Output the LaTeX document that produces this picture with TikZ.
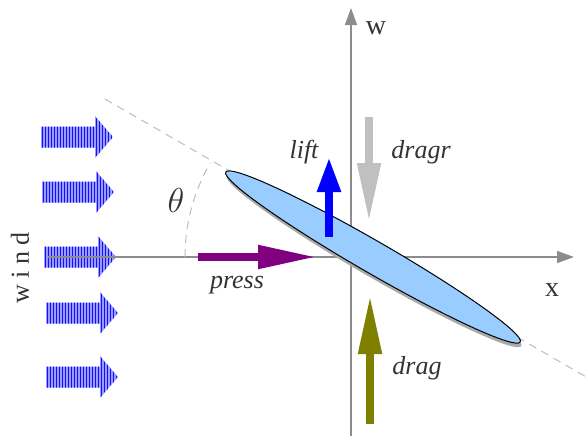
\documentclass[tikz,border=0pt]{standalone}
\usepackage{fontspec}
\setmainfont{Liberation Serif}
\usetikzlibrary{arrows.meta,calc}
\definecolor{ink}{HTML}{333333}
\definecolor{axisgray}{HTML}{8C8C8C}
\definecolor{guidegray}{HTML}{BDBDBD}
\definecolor{wingfill}{HTML}{99CCFF}
\definecolor{shadowgray}{HTML}{AAAAAA}
\definecolor{liftblue}{HTML}{0000FF}
\definecolor{dragrgray}{HTML}{C0C0C0}
\definecolor{dragolive}{HTML}{808000}
\definecolor{presspurple}{HTML}{800080}
\definecolor{windblue}{HTML}{1010FF}
\definecolor{windsoft}{HTML}{9A9AFF}

% striped wind arrow: left end x, middle y
\newcommand{\windarrow}[2]{%
  \begin{scope}
    \clip (#1,#2-10.5) -- (#1+54,#2-10.5) -- (#1+54,#2-21) -- (#1+72,#2)
      -- (#1+54,#2+21) -- (#1+54,#2+10.5) -- (#1,#2+10.5) -- cycle;
    \fill[windsoft] (#1,#2-21) rectangle (#1+72,#2+21);
    \foreach \k in {0,...,24}
      \draw[windblue, line width=0.5pt] (#1+1+3*\k,#2-21) -- ++(0,42);
  \end{scope}}

\begin{document}
\begin{tikzpicture}[x=0.5pt, y=-0.5pt,
  font=\fontsize{13}{15}\selectfont,
  axis/.style={draw=axisgray, line width=0.7pt, -{Triangle[length=8.5pt, width=6pt]}},
  guide/.style={draw=guidegray, dash pattern=on 4pt off 3pt, line width=0.5pt},
  wing/.style={draw=black, fill=wingfill, line width=0.5pt},
  force/.style={line width=4pt, -{Triangle[length=29.5pt, width=11pt]}},
  forcelabel/.style={text=ink, font=\fontsize{13}{15}\selectfont\itshape},
  axislabel/.style={text=ink, font=\fontsize{14}{16}\selectfont}
]
\useasboundingbox (0,0) rectangle (588,436);

\coordinate (wingc) at (373,257);
\coordinate (xstart) at (48,257);
\coordinate (xend) at (574,257);
\coordinate (wstart) at (351,436);
\coordinate (wend) at (351,8);
\coordinate (chordA) at (105,99);
\coordinate (chordB) at (588,378);

% wind
\foreach \wx/\wy in {41/137, 42/192, 44/257, 46/313, 46/377}
  \windarrow{\wx}{\wy};
\node[forcelabel, font=\fontsize{13}{15}\selectfont, rotate=90] (wind) at (20,268) {w i n d};

% axes
\draw[axis] (xstart) -- (xend);
\draw[axis] (wstart) -- (wend);
\node[axislabel] (xlab) at (552,290) {x};
\node[axislabel] (wlab) at (376,28) {w};

% chord line and angle
\draw[guide] (chordA) -- (chordB);
\draw[guide] ($(wingc)+(180:188)$) arc[start angle=180, end angle=210, radius=188];
\node[text=ink, font=\fontsize{17}{19}\selectfont] (theta) at (176,200) {$\theta$};

% wing
\begin{scope}[shift={(wingc)}, rotate=-30]
  \fill[shadowgray] (3,3) ellipse [x radius=85pt, y radius=8pt];
  \draw[wing] (0,0) ellipse [x radius=85pt, y radius=8pt];
\end{scope}

% forces
\coordinate (liftA) at (329,237);
\coordinate (liftB) at (329,157);
\coordinate (dragrA) at (369,117);
\coordinate (dragrB) at (369,222);
\coordinate (dragA) at (370,424);
\coordinate (dragB) at (370,295);
\coordinate (pressA) at (198,257);
\coordinate (pressB) at (317,257);

\draw[force, draw=liftblue, -{Triangle[length=17.5pt, width=11pt]}] (liftA) -- (liftB);
\draw[force, draw=dragrgray] (dragrA) -- (dragrB);
\draw[force, draw=dragolive] (dragA) -- (dragB);
\draw[force, draw=presspurple] (pressA) -- (pressB);

\node[forcelabel] (liftlab) at (304,152) {lift};
\node[forcelabel] (dragrlab) at (421,152) {dragr};
\node[forcelabel] (draglab) at (417,368) {drag};
\node[forcelabel] (presslab) at (237,285) {press};
\end{tikzpicture}
\end{document}
